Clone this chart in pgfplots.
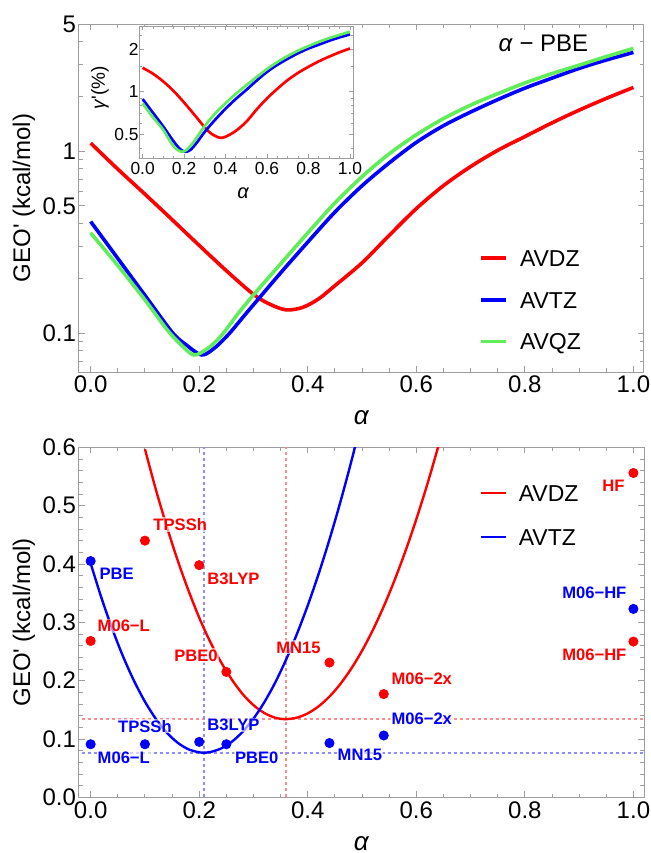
\documentclass[border=0pt]{standalone}
\usepackage{fontspec}
\setmainfont{Liberation Sans}
\usepackage{pgfplots}
\pgfplotsset{compat=1.18}
\definecolor{cred}{rgb}{1,0,0}
\definecolor{cblue}{rgb}{0,0,1}
\definecolor{cgreen}{rgb}{0.38,0.93,0.35}
\definecolor{framegray}{gray}{0.62}
\definecolor{lred}{rgb}{1,0.55,0.55}
\definecolor{lblue}{rgb}{0.55,0.55,1}
\pgfplotsset{
  mma/.style={
    scale only axis,
    axis line style={framegray, line width=0.5pt},
    every tick/.style={framegray, line width=0.45pt},
    major tick length=3pt, minor tick length=1.8pt,
    tick align=inside,
    /pgf/number format/assume math mode=true,
    ticklabel style={font=\fontsize{12}{14}\selectfont},
    yticklabel style={xshift=2pt},
    xticklabel style={yshift=1.5pt},
    label style={font=\fontsize{12}{14}\selectfont},
    legend image code/.code={\draw[##1] (0pt,0pt) -- (12.5pt,0pt);},
    legend cell align=left,
  },
}
\pgfplotstableread{
a v
0.00 1.107
0.05 0.796
0.10 0.580
0.15 0.420
0.20 0.303
0.25 0.220
0.30 0.163
0.33 0.144
0.36 0.134
0.39 0.138
0.42 0.154
0.45 0.182
0.50 0.243
0.55 0.344
0.60 0.483
0.65 0.646
0.70 0.822
0.75 1.010
0.80 1.202
0.85 1.430
0.90 1.680
0.95 1.950
1.00 2.240
}\topDZ
\pgfplotstableread{
a v
0.00 0.410
0.05 0.257
0.10 0.161
0.15 0.101
0.175 0.0865
0.205 0.0757
0.23 0.0835
0.255 0.0990
0.28 0.1215
0.30 0.143
0.35 0.214
0.40 0.316
0.45 0.462
0.50 0.645
0.55 0.861
0.60 1.117
0.65 1.380
0.70 1.640
0.75 1.920
0.80 2.220
0.85 2.520
0.90 2.850
0.95 3.170
1.00 3.490
}\topTZ
\pgfplotstableread{
a v
0.00 0.355
0.05 0.235
0.10 0.152
0.14 0.105
0.165 0.087
0.19 0.0757
0.215 0.082
0.24 0.096
0.27 0.126
0.30 0.162
0.35 0.240
0.40 0.355
0.45 0.519
0.50 0.724
0.55 0.966
0.60 1.230
0.65 1.510
0.70 1.790
0.75 2.070
0.80 2.370
0.85 2.670
0.90 2.970
0.95 3.310
1.00 3.670
}\topQZ
\pgfplotstableread{
a v
0.00 1.476
0.05 1.340
0.10 1.180
0.15 1.010
0.20 0.839
0.25 0.687
0.30 0.560
0.33 0.507
0.37 0.474
0.40 0.481
0.45 0.530
0.50 0.614
0.55 0.750
0.60 0.898
0.65 1.050
0.70 1.210
0.75 1.360
0.80 1.500
0.85 1.640
0.90 1.770
0.95 1.900
1.00 2.020
}\inDZ
\pgfplotstableread{
a v
0.00 0.888
0.05 0.710
0.10 0.567
0.15 0.445
0.18 0.395
0.205 0.377
0.23 0.388
0.26 0.435
0.30 0.522
0.35 0.635
0.40 0.759
0.45 0.891
0.50 1.030
0.55 1.200
0.60 1.380
0.65 1.550
0.70 1.710
0.75 1.870
0.80 2.020
0.85 2.150
0.90 2.290
0.95 2.420
1.00 2.540
}\inTZ
\pgfplotstableread{
a v
0.00 0.828
0.05 0.660
0.10 0.537
0.14 0.430
0.165 0.392
0.19 0.377
0.215 0.392
0.25 0.450
0.30 0.575
0.35 0.703
0.40 0.830
0.45 0.968
0.50 1.110
0.55 1.270
0.60 1.445
0.65 1.620
0.70 1.790
0.75 1.950
0.80 2.100
0.85 2.250
0.90 2.390
0.95 2.520
1.00 2.650
}\inQZ
\pgfplotstableread{
a v
0.10 0.597
0.12 0.528
0.14 0.465
0.16 0.407
0.18 0.355
0.20 0.308
0.22 0.267
0.24 0.232
0.26 0.202
0.28 0.177
0.30 0.158
0.32 0.1445
0.34 0.1365
0.359 0.134
0.38 0.1366
0.40 0.1439
0.42 0.156
0.44 0.1727
0.46 0.1942
0.48 0.2204
0.50 0.2513
0.52 0.2869
0.54 0.3273
0.56 0.3724
0.58 0.4222
0.60 0.4767
0.62 0.5359
0.64 0.5999
0.65 0.6336
}\fitDZ
\pgfplotstableread{
a v
0.00 0.401
0.02 0.3415
0.04 0.2882
0.06 0.2408
0.08 0.1994
0.10 0.164
0.12 0.1346
0.14 0.1112
0.16 0.0938
0.18 0.0824
0.20 0.0770
0.208 0.0765
0.22 0.0775
0.24 0.0836
0.26 0.0952
0.28 0.1123
0.30 0.1349
0.32 0.1631
0.34 0.1967
0.36 0.2359
0.38 0.2800
0.40 0.3290
0.42 0.3830
0.44 0.4420
0.46 0.5060
0.48 0.5750
0.50 0.6490
}\fitTZ
\pgfplotstableread{
a v
0.00 0.268
0.10 0.440
0.20 0.398
0.25 0.215
0.44 0.231
0.54 0.177
1.00 0.556
1.00 0.267
}\ptDZ
\pgfplotstableread{
a v
0.00 0.405
0.00 0.091
0.10 0.091
0.20 0.095
0.25 0.091
0.44 0.093
0.54 0.106
1.00 0.323
}\ptTZ
\begin{document}
\begin{tikzpicture}
\useasboundingbox (0,0) rectangle (325.5pt,-426.5pt);
% ---------------- top panel ----------------
\begin{axis}[mma,
  at={(39.5pt,-186pt)}, anchor=south west,
  width=282.5pt, height=174pt,
  xmin=-0.0215, xmax=1.0195,
  ymode=log, ymin=0.061, ymax=5,
  ytick={0.1,0.5,1,5}, yticklabels={0.1,0.5,1,5},
  minor ytick={0.07,0.08,0.09,0.2,0.3,0.4,0.6,0.7,0.8,0.9,2,3,4},
  xtick={0,0.2,0.4,0.6,0.8,1}, xticklabels={0.0,0.2,0.4,0.6,0.8,1.0},
  minor x tick num=3,
  xlabel={\fontsize{13}{14}\selectfont\textit{α}},
  xlabel style={at={(axis description cs:0.5,-0.132)}, anchor=center},
  ylabel={GEO\textquotesingle\ (kcal/mol)},
  ylabel style={at={(axis description cs:-0.0973,0.5)}, anchor=center},
  legend style={draw=none, fill=none, at={(0.708,0.352)}, anchor=north west,
    inner sep=0pt, row sep=12.5pt, column sep=6pt,
    font=\fontsize{11.5}{13}\selectfont,
    nodes={inner sep=0pt, text height=8.3pt, text depth=0pt}},
]
\addplot[cred, line width=1.8pt, smooth] table[x=a,y=v] {\topDZ};
\addlegendentry{AVDZ}
\addplot[cblue, line width=1.8pt, smooth] table[x=a,y=v] {\topTZ};
\addlegendentry{AVTZ}
\addplot[cgreen, line width=1.8pt, smooth] table[x=a,y=v] {\topQZ};
\addlegendentry{AVQZ}
\node[font=\fontsize{12}{14}\selectfont, anchor=center] at (rel axis cs:0.822,0.9445) {\textit{α} − PBE};
\end{axis}
% ---------------- inset ----------------
\begin{axis}[mma,
  at={(69.65pt,-79.15pt)}, anchor=south west,
  width=107pt, height=66.15pt,
  axis background/.style={fill=white},
  xmin=-0.016, xmax=1.016,
  ymode=log, ymin=0.339, ymax=2.91,
  ytick={0.5,1,2}, yticklabels={0.5,1,2},
  minor ytick={0.4,0.6,0.7,0.8,0.9,1.5,2.5},
  xtick={0,0.2,0.4,0.6,0.8,1}, xticklabels={0.0,0.2,0.4,0.6,0.8,1.0},
  minor x tick num=3,
  major tick length=2.2pt, minor tick length=1.3pt,
  ticklabel style={font=\fontsize{8.7}{10}\selectfont},
  yticklabel style={xshift=1.2pt},
  xticklabel style={yshift=0pt},
  xlabel={\fontsize{10}{12}\selectfont\textit{α}},
  xlabel style={at={(axis description cs:0.486,-0.2646)}, anchor=center},
  ylabel={\fontsize{9.5}{11}\selectfont\textit{γ}\textquotesingle(\%)},
  ylabel style={at={(axis description cs:-0.184,0.53)}, anchor=center},
]
\addplot[cred, line width=1.35pt, smooth] table[x=a,y=v] {\inDZ};
\addplot[cblue, line width=1.35pt, smooth] table[x=a,y=v] {\inTZ};
\addplot[cgreen, line width=1.35pt, smooth] table[x=a,y=v] {\inQZ};
\end{axis}
% ---------------- bottom panel ----------------
\begin{axis}[mma,
  at={(39.5pt,-398.65pt)}, anchor=south west,
  width=282.5pt, height=175pt,
  xmin=-0.0215, xmax=1.0195,
  ymin=0, ymax=0.6,
  ytick={0,0.1,0.2,0.3,0.4,0.5,0.6}, yticklabels={0.0,0.1,0.2,0.3,0.4,0.5,0.6},
  minor y tick num=4,
  xtick={0,0.2,0.4,0.6,0.8,1}, xticklabels={0.0,0.2,0.4,0.6,0.8,1.0},
  minor x tick num=3,
  xlabel={\fontsize{13}{14}\selectfont\textit{α}},
  xlabel style={at={(axis description cs:0.5,-0.1314)}, anchor=center},
  ylabel={GEO\textquotesingle\ (kcal/mol)},
  ylabel style={at={(axis description cs:-0.0973,0.5)}, anchor=center},
  legend style={draw=none, fill=none, at={(0.708,0.894)}, anchor=north west,
    inner sep=0pt, row sep=13.5pt, column sep=6pt,
    font=\fontsize{11.5}{13}\selectfont,
    nodes={inner sep=0pt, text height=8.3pt, text depth=0pt}},
]
\addplot[lred, line width=1pt, dash pattern=on 1.5pt off 1.5pt, forget plot] coordinates {(-0.05,0.134) (1.05,0.134)};
\addplot[lred, line width=1pt, dash pattern=on 1.5pt off 1.5pt, forget plot] coordinates {(0.359,0) (0.359,0.6)};
\addplot[lblue, line width=1pt, dash pattern=on 1.5pt off 1.5pt, forget plot] coordinates {(-0.05,0.0765) (1.05,0.0765)};
\addplot[lblue, line width=1pt, dash pattern=on 1.5pt off 1.5pt, forget plot] coordinates {(0.209,0) (0.209,0.6)};
\addplot[cred, line width=1.2pt, smooth] table[x=a,y=v] {\fitDZ};
\addlegendentry{AVDZ}
\addplot[cblue, line width=1.2pt, smooth] table[x=a,y=v] {\fitTZ};
\addlegendentry{AVTZ}
\addplot[only marks, mark=*, mark size=2.3pt, cred, forget plot] table[x=a,y=v] {\ptDZ};
\addplot[only marks, mark=*, mark size=2.3pt, cblue, forget plot] table[x=a,y=v] {\ptTZ};
\begin{scope}[every node/.style={font=\fontsize{8.3}{10}\selectfont\bfseries, anchor=center, inner sep=0.6pt, fill=white, fill opacity=0.6, text opacity=1}]
\node[text=cred] at (axis cs:0.165,0.468) {TPSSh};
\node[text=cred] at (axis cs:0.263,0.375) {B3LYP};
\node[text=cred] at (axis cs:0.061,0.294) {M06−L};
\node[text=cred] at (axis cs:0.194,0.243) {PBE0};
\node[text=cred] at (axis cs:0.383,0.257) {MN15};
\node[text=cred] at (axis cs:0.610,0.204) {M06−2x};
\node[text=cred] at (axis cs:0.963,0.534) {HF};
\node[text=cred] at (axis cs:0.928,0.244) {M06−HF};
\node[text=cblue] at (axis cs:0.048,0.383) {PBE};
\node[text=cblue] at (axis cs:0.100,0.122) {TPSSh};
\node[text=cblue] at (axis cs:0.263,0.124) {B3LYP};
\node[text=cblue] at (axis cs:0.061,0.067) {M06−L};
\node[text=cblue] at (axis cs:0.306,0.068) {PBE0};
\node[text=cblue] at (axis cs:0.496,0.0725) {MN15};
\node[text=cblue] at (axis cs:0.610,0.135) {M06−2x};
\node[text=cblue] at (axis cs:0.928,0.351) {M06−HF};
\end{scope}
\end{axis}
\end{tikzpicture}
\end{document}
